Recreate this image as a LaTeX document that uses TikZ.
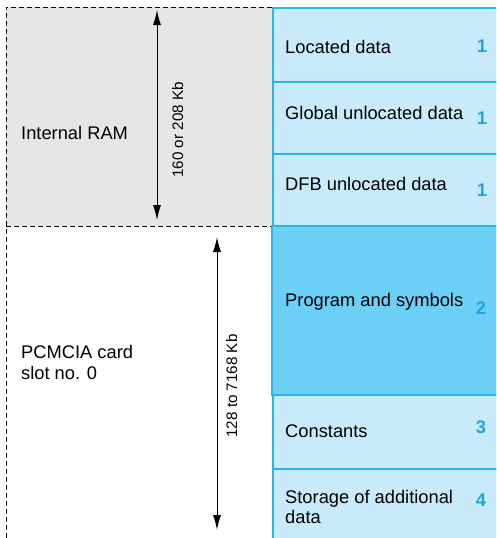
\documentclass[tikz,border=0pt]{standalone}
\usepackage{fontspec}
\setmainfont{Liberation Sans}
\usetikzlibrary{arrows.meta}
\definecolor{cellfill}{HTML}{C8EAFB}
\definecolor{progfill}{HTML}{6CCFF6}
\definecolor{cellline}{HTML}{29B5EC}
\definecolor{numblue}{HTML}{1AA7E1}
\definecolor{ramgrey}{HTML}{E6E6E6}
\tikzset{
  cell/.style={draw=cellline, line width=1.5pt, fill=cellfill, anchor=north west,
    minimum width=240pt, inner sep=0pt},
  progcell/.style={cell, fill=progfill},
  zone/.style={draw=black, line width=1pt, dash pattern=on 5pt off 3pt},
  txt/.style={anchor=base west, inner sep=0pt, font=\fontsize{18.3}{22}\selectfont},
  num/.style={anchor=base, inner sep=0pt, text=numblue, font=\fontsize{18.3}{22}\selectfont\bfseries},
  sizelabel/.style={anchor=base, inner sep=0pt, rotate=90, font=\fontsize{15.2}{18}\selectfont},
  sizearrow/.style={line width=1pt, {Latex[length=15pt,width=8pt]}-{Latex[length=15pt,width=8pt]}}
}
\begin{document}
\begin{tikzpicture}[x=1pt,y=-1pt]
\useasboundingbox (0,0) rectangle (496,538);
\clip (0,0) rectangle (496,538);

% internal RAM zone and PCMCIA zone
\fill[ramgrey] (6,7) rectangle (272,226);
\draw[zone] (272,7) -- (6,7) -- (6,540);
\draw[zone] (6,226) -- (272,226);

% memory map column
\node[cell, minimum height=74pt] (located) at (272,7) {};
\node[cell, minimum height=72pt] (global) at (272,81) {};
\node[cell, minimum height=72pt] (dfb) at (272,153) {};
\node[cell, minimum height=74pt] (constants) at (272,394) {};
\node[cell, minimum height=80pt] (storage) at (272,468) {};
\node[progcell, minimum height=169pt] (program) at (271,225) {};

% cell texts and area numbers
\node[txt] (tlocated) at (285,53) {Located data};
\node[num] (nlocated) at (482,52) {1};
\node[txt] (tglobal) at (285,119) {Global unlocated data};
\node[num] (nglobal) at (482,124) {1};
\node[txt] (tdfb) at (285,190) {DFB unlocated data};
\node[num] (ndfb) at (482,196) {1};
\node[txt] (tprogram) at (285,306) {Program and symbols};
\node[num] (nprogram) at (481,314) {2};
\node[txt] (tconstants) at (285,437) {Constants};
\node[num] (nconstants) at (481,433) {3};
\node[txt] (tstorage) at (285,503) {Storage of additional};
\node[txt] (tdata) at (285,523) {data};
\node[num] (nstorage) at (481,506) {4};

% zone labels
\node[txt] (ram) at (21,139) {Internal RAM};
\node[txt] (pcmcia) at (21,358) {PCMCIA card};
\node[txt] (slot) at (21,379) {slot no. 0};

% size arrows
\coordinate (ramtop) at (157,10);
\coordinate (rambot) at (157,220);
\draw[sizearrow] (ramtop) -- (rambot);
\node[sizelabel] (ramsize) at (183,130) {160 or 208 Kb};

\coordinate (cardtop) at (217,237);
\coordinate (cardbot) at (217,530);
\draw[sizearrow] (cardtop) -- (cardbot);
\node[sizelabel] (cardsize) at (237,386) {128 to 7168 Kb};
\end{tikzpicture}
\end{document}
